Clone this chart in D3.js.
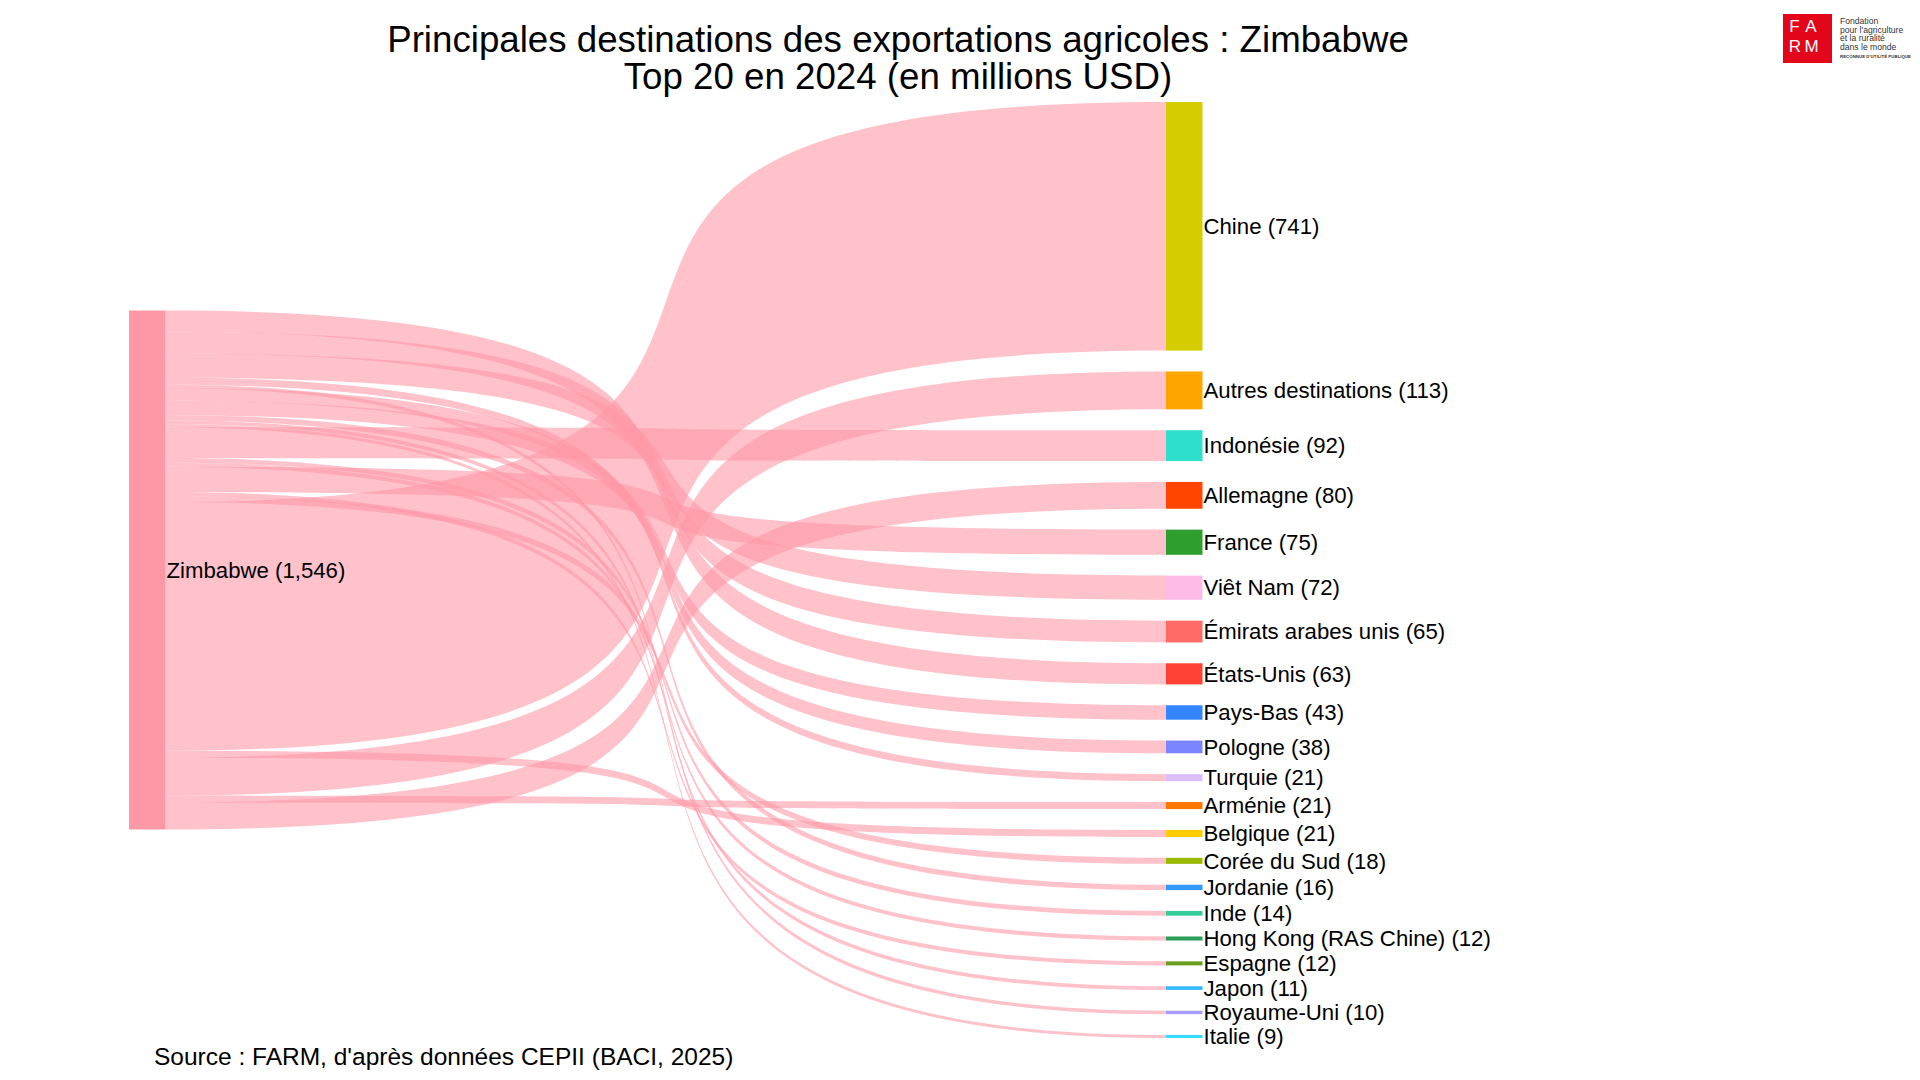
<!DOCTYPE html>
<html>
<head>
<meta charset="utf-8">
<script src="https://cdn.jsdelivr.net/npm/d3@7"></script>
<style>
  body { margin: 0; background: #fff; }
  svg { display: block; font-family: "Liberation Sans", Arial, sans-serif; }
</style>
</head>
<body>
<div id="chart-container"></div>
<script>
// Data (millions USD, 2024)
const sourceName = "Zimbabwe";
const sourceTotal = 1546;
const destinations = [
  "Chine", "Autres destinations", "Indonésie", "Allemagne", "France",
  "Viêt Nam", "Émirats arabes unis", "États-Unis", "Pays-Bas", "Pologne",
  "Turquie", "Arménie", "Belgique", "Corée du Sud", "Jordanie", "Inde",
  "Hong Kong (RAS Chine)", "Espagne", "Japon", "Royaume-Uni", "Italie"
];
const values = [741, 113, 92, 80, 75, 72, 65, 63, 43, 38, 21, 21, 21, 18, 16, 14, 12, 12, 11, 10, 9];
const nodeColors = [
  "#d4cd00", "#ffa500", "#2ee0cb", "#ff4500", "#2e9e2e",
  "#ffbbe8", "#ff6b66", "#ff4133", "#3385ff", "#7a85ff",
  "#ddbbff", "#ff7700", "#ffcc00", "#99b800", "#3399ff", "#33cc99",
  "#2e9e5a", "#6b9e1f", "#33bbff", "#a59cff", "#33ddff"
];
const sourceColor = "#ff98a6";

const width = 1920;
const height = 1080;
const colTop = 102, colBottom = 1038, pad = 20.85;
const nodeWidth = 36.5;
const curvature = 0.86;

const svg = d3.select("#chart-container")
  .append("svg")
  .attr("width", width)
  .attr("height", height);

const total = d3.sum(values);
const n = destinations.length;
const k = (colBottom - colTop - pad * (n - 1)) / total;

// value -> pixel thickness
const yScale = d3.scaleLinear().domain([0, total]).range([0, total * k]);
// column -> x of node's left edge
const xScale = d3.scaleLinear().domain([0, 1]).range([129, 1166]);

// target nodes, stacked top to bottom
let cum = 0;
const targets = destinations.map((name, i) => {
  const y0 = colTop + yScale(cum) + i * pad;
  cum += values[i];
  return { name, value: values[i], color: nodeColors[i], y0, y1: y0 + yScale(values[i]) };
});

// source node, centred on the column
const srcH = yScale(total);
const srcY0 = (colTop + colBottom) / 2 - srcH / 2;

// order of links on the source side (by name, descending)
const srcOrder = targets.slice().sort((a, b) => d3.descending(a.name, b.name));
let sCum = 0;
srcOrder.forEach(t => {
  t.sy0 = srcY0 + yScale(sCum);
  sCum += t.value;
  t.sy1 = srcY0 + yScale(sCum);
});

const x0 = xScale(0) + nodeWidth;
const x1 = xScale(1);
const xi = d3.interpolateNumber(x0, x1);
const xa = xi(curvature), xb = xi(1 - curvature);

function linkPath(t) {
  const p = d3.path();
  p.moveTo(x0, t.sy0);
  p.bezierCurveTo(xa, t.sy0, xb, t.y0, x1, t.y0);
  p.lineTo(x1, t.y1);
  p.bezierCurveTo(xb, t.y1, xa, t.sy1, x0, t.sy1);
  p.closePath();
  return p.toString();
}

// links
svg.append("g")
  .selectAll("path")
  .data(targets)
  .enter()
  .append("path")
  .attr("d", linkPath)
  .attr("fill", sourceColor)
  .attr("fill-opacity", 0.6);

// source node
svg.append("rect")
  .attr("x", xScale(0))
  .attr("y", srcY0)
  .attr("width", nodeWidth)
  .attr("height", srcH)
  .attr("fill", sourceColor);

svg.append("text")
  .attr("x", xScale(0) + nodeWidth + 1)
  .attr("y", srcY0 + srcH / 2)
  .attr("dy", "0.35em")
  .style("font-size", "22.2px")
  .attr("fill", "#000")
  .text(`${sourceName} (${d3.format(",")(sourceTotal)})`);

// target nodes
const nodes = svg.append("g")
  .selectAll("g")
  .data(targets)
  .enter()
  .append("g");

nodes.append("rect")
  .attr("x", xScale(1))
  .attr("y", d => d.y0)
  .attr("width", nodeWidth)
  .attr("height", d => d.y1 - d.y0)
  .attr("fill", d => d.color);

nodes.append("text")
  .attr("x", xScale(1) + nodeWidth + 1)
  .attr("y", d => (d.y0 + d.y1) / 2)
  .attr("dy", "0.35em")
  .style("font-size", "22.2px")
  .attr("fill", "#000")
  .text(d => `${d.name} (${d.value})`);

// title, two lines
const titleLines = [
  "Principales destinations des exportations agricoles : Zimbabwe",
  "Top 20 en 2024 (en millions USD)"
];
titleLines.forEach((s, i) => {
  svg.append("text")
    .attr("x", 898)
    .attr("y", 52 + i * 36.5)
    .attr("text-anchor", "middle")
    .style("font-size", "36.7px")
    .attr("fill", "#000")
    .text(s);
});

// source note
svg.append("text")
  .attr("x", 154)
  .attr("y", 1065)
  .style("font-size", "24.5px")
  .attr("fill", "#000")
  .text("Source : FARM, d'après données CEPII (BACI, 2025)");

// FARM logo
const logo = svg.append("g");
logo.append("rect")
  .attr("x", 1783).attr("y", 14)
  .attr("width", 49).attr("height", 49)
  .attr("fill", "#e3061b");
[["F", 1794.5, 32], ["A", 1811, 32], ["R", 1795, 52], ["M", 1811.5, 52]].forEach(([c, x, y]) => {
  logo.append("text")
    .attr("x", x).attr("y", y)
    .attr("text-anchor", "middle")
    .style("font-size", "17px")
    .attr("fill", "#fff")
    .text(c);
});
const logoLines = ["Fondation", "pour l'agriculture", "et la ruralité", "dans le monde"];
logoLines.forEach((s, i) => {
  logo.append("text")
    .attr("x", 1840).attr("y", 24 + i * 8.5)
    .style("font-size", "8.6px")
    .attr("fill", "#333")
    .text(s);
});
logo.append("text")
  .attr("x", 1840).attr("y", 58)
  .style("font-size", "4.4px")
  .style("font-weight", "bold")
  .attr("fill", "#333")
  .text("RECONNUE D'UTILITÉ PUBLIQUE");
</script>
</body>
</html>
